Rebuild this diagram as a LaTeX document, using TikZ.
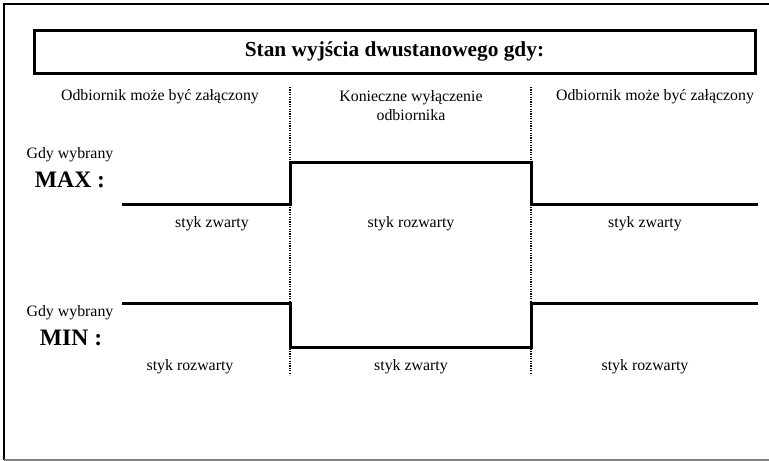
\documentclass[tikz,border=0pt]{standalone}
\usepackage{fontspec}
\setmainfont{Liberation Serif}
\begin{document}
\begin{tikzpicture}[x=0.75pt,y=-0.75pt,
  frame/.style={line width=2pt},
  titlebox/.style={draw, line width=2.25pt, inner sep=0pt,
    minimum width=540.75pt, minimum height=32.25pt,
    font=\bfseries\fontsize{16}{19}\selectfont},
  wave/.style={line width=2.25pt, line cap=butt, line join=miter},
  divider/.style={line width=1.1pt, dash pattern=on 0.9pt off 0.9pt},
  lbl/.style={font=\fontsize{11.9}{14.25}\selectfont, inner sep=0pt, align=center},
  level/.style={font=\bfseries\fontsize{17.7}{20}\selectfont, inner sep=0pt}]
\useasboundingbox (0,0) rectangle (769,461);

% outer frame (open on the right)
\draw[frame] (769,4) -- (4,4) -- (4,460);
\draw[gray, line width=1.5pt] (4,460) -- (769,460);

% heading
\node[titlebox] (title) at (394.5,51.5) {Stan wyjścia dwustanowego gdy:};

% column headers
\node[lbl] (hdrL) at (160,96.5) {Odbiornik może być załączony};
\node[lbl] (hdrM) at (411,106) {Konieczne wyłączenie\\odbiornika};
\node[lbl] (hdrR) at (655,96.5) {Odbiornik może być załączony};

% dividers between the columns
\coordinate (d1t) at (290,87);
\coordinate (d1b) at (290,375);
\coordinate (d2t) at (531,87);
\coordinate (d2b) at (531,375);
\draw[divider] (d1t) -- (d1b);
\draw[divider] (d2t) -- (d2b);

% MAX selected
\node[lbl] (gdyMax) at (70,155) {Gdy wybrany};
\node[level] (max) at (70,180) {MAX :};
\coordinate (a0) at (122,204);
\coordinate (a1) at (290,204);
\coordinate (a2) at (290,162);
\coordinate (a3) at (531,162);
\coordinate (a4) at (531,204);
\coordinate (a5) at (758,204);
\draw[wave] (a0) -- (a1) -- (a2) -- (a3) -- (a4) -- (a5);
\node[lbl] (sMaxL) at (212,224) {styk zwarty};
\node[lbl] (sMaxM) at (411,224) {styk rozwarty};
\node[lbl] (sMaxR) at (645,224) {styk zwarty};

% MIN selected
\node[lbl] (gdyMin) at (70,313) {Gdy wybrany};
\node[level] (min) at (71,338) {MIN :};
\coordinate (b0) at (122,303);
\coordinate (b1) at (290,303);
\coordinate (b2) at (290,347);
\coordinate (b3) at (531,347);
\coordinate (b4) at (531,303);
\coordinate (b5) at (758,303);
\draw[wave] (b0) -- (b1) -- (b2) -- (b3) -- (b4) -- (b5);
\node[lbl] (sMinL) at (190,367) {styk rozwarty};
\node[lbl] (sMinM) at (411,367) {styk zwarty};
\node[lbl] (sMinR) at (645,367) {styk rozwarty};
\end{tikzpicture}
\end{document}
